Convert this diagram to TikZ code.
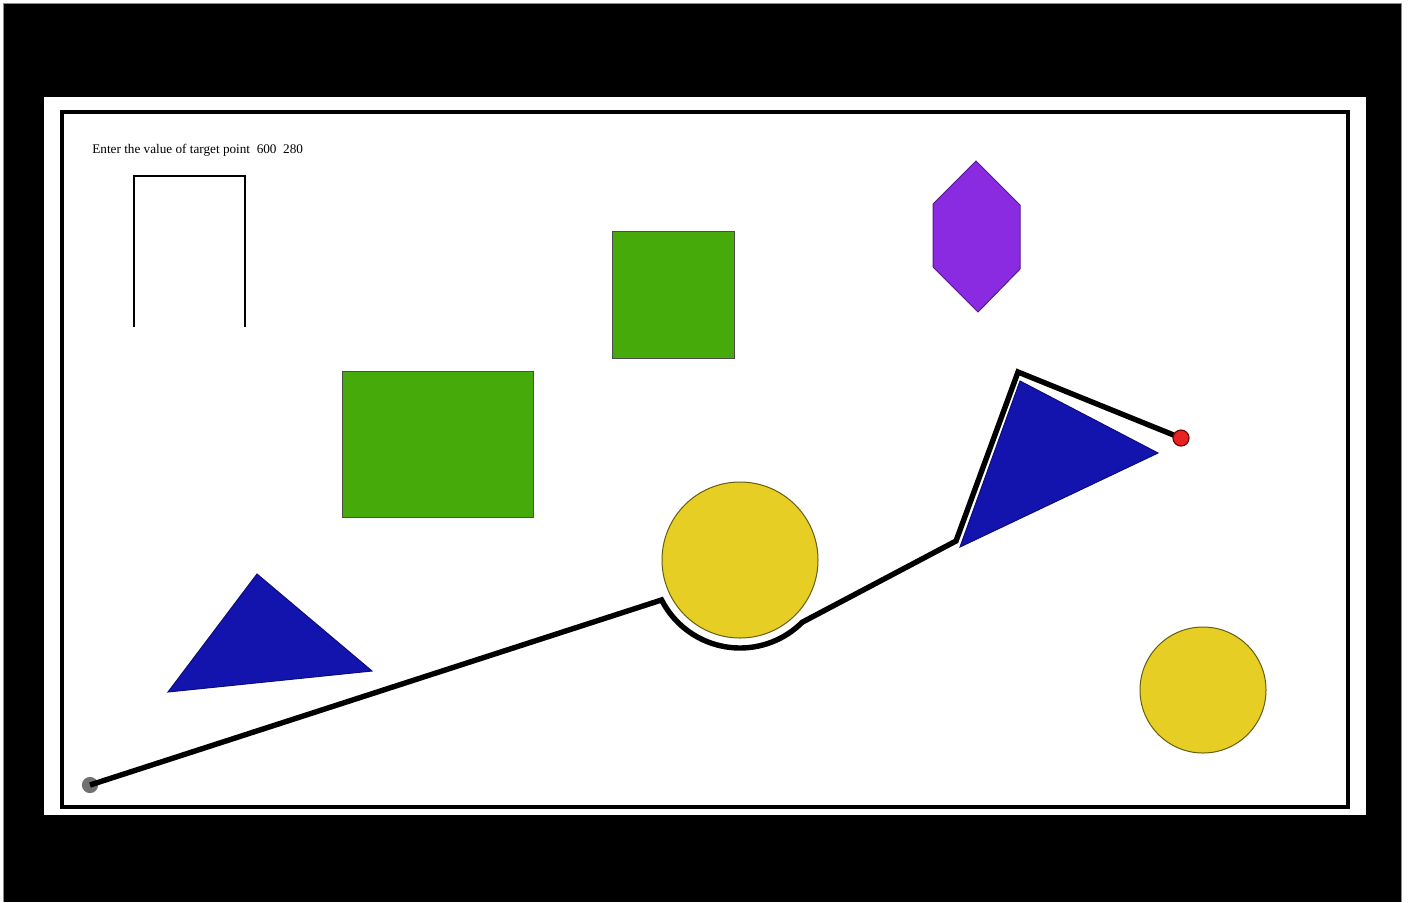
\documentclass[tikz,border=0pt]{standalone}
\usepackage{fontspec}
\setmainfont{Liberation Serif}
\usetikzlibrary{calc}
\definecolor{cGrn}{HTML}{46AB0A}
\definecolor{cBlu}{HTML}{1313AD}
\definecolor{cYel}{HTML}{E6CE24}
\definecolor{cVio}{HTML}{8A2BE2}
\definecolor{cRed}{HTML}{E82222}
\definecolor{cDot}{HTML}{707070}
\tikzset{
  obst/.style  ={draw=black!70,line width=0.5pt},
  box/.style   ={obst,fill=cGrn},
  tri/.style   ={obst,draw=cBlu!70!black,fill=cBlu},
  disc/.style  ={obst,draw=cYel!45!black,fill=cYel},
  hexa/.style  ={obst,draw=cVio!60!black,fill=cVio},
  route/.style ={draw=black,line width=2.7pt,line join=miter},
  endpt/.style ={circle,inner sep=0pt,line width=0.6pt},
  prompt/.style={font=\fontsize{6.6}{8}\selectfont,inner sep=0pt,anchor=base west},
}

\begin{document}
\begin{tikzpicture}[x=0.5pt, y=-0.5pt]
\useasboundingbox (0,0) rectangle (1414,902);

% window and canvas
\fill[white] (0,0) rectangle (1414,902);
\fill[black] (3,3) rectangle (1401,902);
\draw[black!45,line width=0.5pt] (3,902) -- (3,3) -- (1401,3) -- (1401,902);
\fill[white] (44,97) rectangle (1366,815);
\draw[line width=2pt] (62,112) rectangle (1348,807);

\node[prompt] (ask) at (92,153.5) {Enter the value of target point\ \ 600\ \ 280};
\draw[line width=0.6pt] (134,327) -- (134,176) -- (245,176) -- (245,327);

% obstacles
\draw[box] (342,371) rectangle (533,517);
\draw[box] (612,231) rectangle (734,358);
\draw[hexa] (976,161) -- (933,204) -- (933,267) -- (978,312) -- (1020,269) -- (1020,205) -- cycle;
\draw[tri] (257,574) -- (168,692) -- (372,671) -- cycle;
\draw[tri] (1020,381) -- (960,547) -- (1158,453) -- cycle;
\coordinate (c1) at (740,560);
\draw[disc] (c1) circle[radius=78];
\draw[disc] (1203,690) circle[radius=63];

% planned route, start to target
\coordinate (start)  at (90,785);
\coordinate (bend)   at (956,541);
\coordinate (apex)   at (1018,372);
\coordinate (target) at (1181,438);
\node[endpt,minimum size=7.5pt,fill=cDot,draw=black!55] (s) at (start) {};
\draw[route] (start) -- ($(c1)+(153:88)$) arc[start angle=153,end angle=45,radius=88]
  -- (bend) -- (apex) -- (target);
\node[endpt,minimum size=8pt,fill=cRed,draw=red!45!black] (t) at (target) {};
\end{tikzpicture}
\end{document}
